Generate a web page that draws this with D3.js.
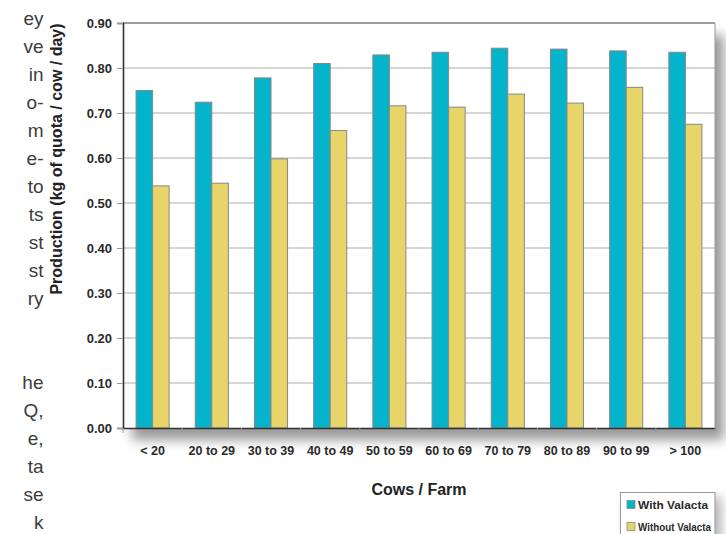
<!DOCTYPE html>
<html>
  <head>
    <meta charset="utf-8" />
    <script src="https://d3js.org/d3.v7.min.js"></script>
    <style>
        body { margin: 0; background: #fff; }
        svg { display: block; }
        .body-text { font-family: "Liberation Sans", Arial, sans-serif; font-size: 19px; fill: #3c3c3c; }
        .tick-label { font-family: "Liberation Sans", Arial, sans-serif; font-weight: bold; fill: #2a2a2a; }
        .axis-title { font-family: "Liberation Sans", Arial, sans-serif; font-weight: bold; font-size: 16px; fill: #222; }
        .legend-text { font-family: "Liberation Sans", Arial, sans-serif; font-weight: bold; fill: #2a2a2a; }
    </style>
  </head>
  <body>

    <svg id="chart" width="726" height="534"></svg>

    <script>

        // chart values
        var categories = ["< 20", "20 to 29", "30 to 39", "40 to 49", "50 to 59",
                          "60 to 69", "70 to 79", "80 to 89", "90 to 99", "> 100"];
        var withValacta    = [0.750, 0.724, 0.778, 0.810, 0.829, 0.835, 0.844, 0.842, 0.838, 0.835];
        var withoutValacta = [0.538, 0.544, 0.598, 0.661, 0.716, 0.713, 0.742, 0.722, 0.757, 0.675];
        var seriesNames = ["With Valacta", "Without Valacta"];
        var yTicks = [0, 0.1, 0.2, 0.3, 0.4, 0.5, 0.6, 0.7, 0.8, 0.9];

        // ends of the page text lines cut off on the left
        var textLineEnds = ["ey", "ve", "in", "o-", "m", "e-", "to", "ts", "st", "st", "ry",
                            "", "", "he", "Q,", "e,", "ta", "se", "k"];

        var colors = { "With Valacta": "#05b3cb", "Without Valacta": "#e8d56a" };

        function drawChart() {

            var svg = d3.select("#chart");

            var plotLeft = 123, plotRight = 715, plotTop = 23, plotBottom = 428;

            var defs = svg.append("defs");
            var shadow = defs.append("filter").attr("id", "shadow")
                .attr("x", "-10%").attr("y", "-10%").attr("width", "130%").attr("height", "130%");
            shadow.append("feGaussianBlur").attr("stdDeviation", 6);

            // page text fragments
            svg.append("g").selectAll("text")
                .data(textLineEnds)
                .enter().append("text")
                .attr("class", "body-text")
                .attr("x", 43.5)
                .attr("y", function(d, i) { return 25 + i * 28; })
                .attr("text-anchor", "end")
                .text(function(d) { return d; });

            var x = d3.scaleBand().domain(categories).range([plotLeft, plotRight]).padding(0);
            var xs = d3.scaleBand().domain(seriesNames).range([0, x.bandwidth()])
                .paddingInner(0).paddingOuter(0.79);
            var y = d3.scaleLinear().domain([0, 0.9]).range([plotBottom, plotTop]);

            // drop shadow of the plot box
            svg.append("rect")
                .attr("x", plotLeft + 9).attr("y", plotTop + 12)
                .attr("width", plotRight - plotLeft).attr("height", plotBottom - plotTop)
                .attr("fill", "#9a9a9a")
                .attr("filter", "url(#shadow)");

            svg.append("rect")
                .attr("x", plotLeft).attr("y", plotTop)
                .attr("width", plotRight - plotLeft).attr("height", plotBottom - plotTop)
                .attr("fill", "#fff");

            // grid lines
            svg.append("g").selectAll("line")
                .data(yTicks.filter(function(d) { return d > 0 && d < 0.9; }))
                .enter().append("line")
                .attr("x1", plotLeft).attr("x2", plotRight)
                .attr("y1", function(d) { return y(d); })
                .attr("y2", function(d) { return y(d); })
                .attr("stroke", "#c8c8c8")
                .attr("stroke-width", 1.6);

            // top and right border
            svg.append("line").attr("x1", plotLeft).attr("x2", plotRight)
                .attr("y1", y(0.9)).attr("y2", y(0.9))
                .attr("stroke", "#7c7c7c").attr("stroke-width", 1.6);
            svg.append("line").attr("x1", plotRight).attr("x2", plotRight)
                .attr("y1", plotTop).attr("y2", plotBottom)
                .attr("stroke", "#9a9a9a").attr("stroke-width", 1);

            // bars
            var rows = categories.map(function(c, i) {
                return { cat: c, values: [
                    { name: seriesNames[0], value: withValacta[i] },
                    { name: seriesNames[1], value: withoutValacta[i] }
                ] };
            });

            var groups = svg.append("g").selectAll("g")
                .data(rows)
                .enter().append("g")
                .attr("transform", function(d) { return "translate(" + x(d.cat) + ",0)"; });

            groups.selectAll("rect")
                .data(function(d) { return d.values; })
                .enter().append("rect")
                .attr("x", function(d) { return xs(d.name); })
                .attr("width", xs.bandwidth())
                .attr("y", function(d) { return y(d.value); })
                .attr("height", function(d) { return plotBottom - y(d.value); })
                .attr("fill", function(d) { return colors[d.name]; })
                .attr("stroke", "#878787")
                .attr("stroke-width", 1);

            // y axis
            var yAxis = svg.append("g")
                .attr("transform", "translate(" + plotLeft + ",0)")
                .call(d3.axisLeft(y).tickValues(yTicks).tickFormat(d3.format(".2f"))
                    .tickSize(6).tickPadding(5));
            yAxis.select(".domain").attr("stroke", "#333").attr("stroke-width", 1.6);
            yAxis.selectAll(".tick line").attr("stroke", "#999");
            yAxis.selectAll(".tick text").attr("class", "tick-label").style("font-size", "13px");
            yAxis.attr("font-family", null);

            // x axis
            var xAxis = svg.append("g")
                .attr("transform", "translate(0," + plotBottom + ")")
                .call(d3.axisBottom(x).tickSize(0).tickPadding(18));
            xAxis.select(".domain").attr("stroke", "#333").attr("stroke-width", 1.6);
            xAxis.selectAll(".tick text").attr("class", "tick-label").style("font-size", "12.5px");
            xAxis.attr("font-family", null);
            xAxis.selectAll(".sep")
                .data(categories.concat(["end"]))
                .enter().append("line")
                .attr("class", "sep")
                .attr("x1", function(d, i) { return plotLeft + i * x.step(); })
                .attr("x2", function(d, i) { return plotLeft + i * x.step(); })
                .attr("y1", 0).attr("y2", 5)
                .attr("stroke", "#999");

            // axis titles
            svg.append("text")
                .attr("class", "axis-title")
                .attr("transform", "translate(62,159) rotate(-90)")
                .attr("text-anchor", "middle")
                .text("Production (kg of quota / cow / day)");

            svg.append("text")
                .attr("class", "axis-title")
                .attr("x", (plotLeft + plotRight) / 2)
                .attr("y", 495)
                .attr("text-anchor", "middle")
                .text("Cows / Farm");

            // legend
            var legend = svg.append("g");
            legend.append("rect")
                .attr("x", 626).attr("y", 497).attr("width", 95).attr("height", 50)
                .attr("fill", "#b0b0b0").attr("filter", "url(#shadow)");
            legend.append("rect")
                .attr("x", 620.5).attr("y", 492.5).attr("width", 94.5).attr("height", 50)
                .attr("fill", "#fff").attr("stroke", "#999");

            var items = legend.selectAll(".item")
                .data(seriesNames)
                .enter().append("g")
                .attr("class", "item")
                .attr("transform", function(d, i) { return "translate(627," + (500.5 + i * 22) + ")"; });
            items.append("rect")
                .attr("width", 8).attr("height", 8)
                .attr("fill", function(d) { return colors[d]; })
                .attr("stroke", "#888").attr("stroke-width", 0.8);
            items.append("text")
                .attr("class", "legend-text")
                .attr("x", 11).attr("y", 8)
                .style("font-size", function(d, i) { return i === 0 ? "11.8px" : "11px"; })
                .attr("textLength", function(d, i) { return i === 0 ? 70 : 73; })
                .attr("lengthAdjust", "spacingAndGlyphs")
                .text(function(d) { return d; });
        }

        drawChart();

    </script>
  </body>
</html>
